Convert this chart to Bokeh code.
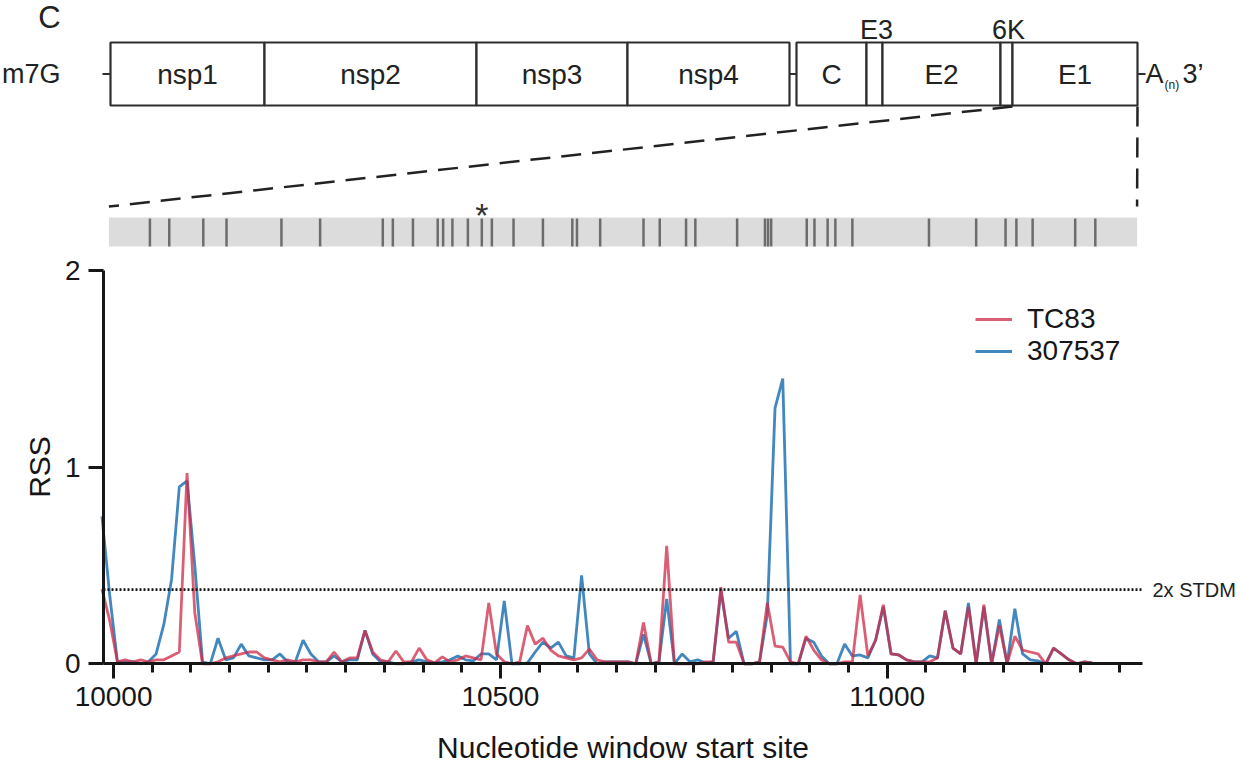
from bokeh.plotting import figure
from bokeh.models import Range1d, FixedTicker, Legend, LegendItem
from bokeh.core.properties import value
from bokeh.embed import file_html
from bokeh.resources import INLINE

FONT = "Liberation Sans"
INK = "#161616"

# ---------------- data ----------------
window_start = list(range(9985, 11266, 10))   # nucleotide window start sites

tc83 = [
    0.38, 0.22, 0.01, 0.02, 0.01, 0.02, 0.01, 0.02, 0.02, 0.04,
    0.06, 0.97, 0.26, 0.00, 0.00, 0.01, 0.03, 0.04, 0.05, 0.06,
    0.06, 0.03, 0.02, 0.01, 0.02, 0.01, 0.02, 0.02, 0.01, 0.01,
    0.06, 0.01, 0.03, 0.03, 0.17, 0.06, 0.02, 0.01, 0.065, 0.01,
    0.01, 0.08, 0.02, 0.005, 0.035, 0.01, 0.02, 0.04, 0.03, 0.02,
    0.31, 0.05, 0.01, 0.00, 0.01, 0.195, 0.10, 0.13, 0.07, 0.04,
    0.03, 0.02, 0.03, 0.075, 0.02, 0.01, 0.01, 0.01, 0.01, 0.00,
    0.21, 0.00, 0.01, 0.60, 0.00, 0.00, 0.00, 0.00, 0.01, 0.01,
    0.39, 0.11, 0.11, 0.00, 0.00, 0.01, 0.31, 0.09, 0.085, 0.01,
    0.00, 0.14, 0.07, 0.02, 0.00, 0.00, 0.01, 0.01, 0.35, 0.04,
    0.12, 0.30, 0.05, 0.045, 0.02, 0.01, 0.01, 0.01, 0.03, 0.27,
    0.08, 0.05, 0.29, 0.00, 0.30, 0.00, 0.195, 0.00, 0.14, 0.07,
    0.06, 0.05, 0.00, 0.08, 0.05, 0.02, 0.00, 0.01, 0.005,
]

s307537 = [
    0.75, 0.35, 0.01, 0.01, 0.01, 0.00, 0.01, 0.05, 0.20, 0.43,
    0.90, 0.93, 0.50, 0.01, 0.00, 0.13, 0.02, 0.03, 0.10, 0.04,
    0.03, 0.02, 0.02, 0.05, 0.01, 0.01, 0.12, 0.05, 0.01, 0.01,
    0.04, 0.01, 0.02, 0.02, 0.17, 0.05, 0.01, 0.01, 0.00, 0.00,
    0.01, 0.02, 0.01, 0.005, 0.01, 0.02, 0.04, 0.02, 0.015, 0.05,
    0.05, 0.02, 0.32, 0.00, 0.00, 0.005, 0.06, 0.11, 0.08, 0.11,
    0.04, 0.03, 0.45, 0.05, 0.00, 0.01, 0.01, 0.01, 0.01, 0.00,
    0.15, 0.00, 0.01, 0.33, 0.00, 0.05, 0.01, 0.02, 0.005, 0.01,
    0.37, 0.13, 0.165, 0.00, 0.00, 0.01, 0.25, 1.30, 1.45, 0.00,
    0.00, 0.13, 0.11, 0.04, 0.00, 0.00, 0.10, 0.04, 0.045, 0.03,
    0.12, 0.29, 0.05, 0.045, 0.02, 0.01, 0.01, 0.04, 0.03, 0.27,
    0.08, 0.05, 0.31, 0.00, 0.29, 0.00, 0.225, 0.00, 0.28, 0.05,
    0.02, 0.015, 0.00, 0.08, 0.05, 0.02, 0.00, 0.01, 0.005,
]

threshold_2x_stdm = 0.377
series_names = ["TC83", "307537"]

x_major_ticks = [10000, 10500, 11000]
x_minor_ticks = [t for t in range(10050, 11301, 50) if t not in x_major_ticks]
y_ticks = [0, 1, 2]

# genome schematic (schematic units)
genes = ["nsp1", "nsp2", "nsp3", "nsp4", "C", "E3", "E2", "6K", "E1"]
gene_start = [110, 264, 476, 627, 796, 866, 882, 1000, 1012]
gene_end = [264, 476, 627, 789, 866, 882, 1000, 1012, 1137]
genes_labelled_above = ["E3", "6K"]

# E1 region and variant sites (nucleotides)
e1_region = [9994, 11323]
variant_sites = [10047, 10072, 10116, 10146, 10217, 10267, 10348, 10361, 10387,
                 10419, 10426, 10438, 10458, 10476, 10489, 10517, 10555, 10593,
                 10599, 10629, 10685, 10706, 10740, 10752, 10806, 10842, 10846,
                 10850, 10896, 10906, 10923, 10933, 10955, 11054, 11115, 11153,
                 11167, 11188, 11243, 11269]
starred_site = 10476

# ---------------- layout constants ----------------
W, H = 1243, 774
AX_L_PX, AX_R_PX = 103, 1142        # x-axis extent on the canvas
Y0_PX, Y2_PX = 663.3, 270.0         # pixel rows of RSS 0 and 2
X_START, X_END = 9987, 11330        # x-axis data extent
Y_TOP_VAL = 2

px_per_nt = (AX_R_PX - AX_L_PX) / (X_END - X_START)
px_per_rss = (Y0_PX - Y2_PX) / Y_TOP_VAL


def nt_to_px(nt):
    return AX_L_PX + (nt - X_START) * px_per_nt


p = figure(width=W, height=H,
           x_range=Range1d(X_START - AX_L_PX / px_per_nt, X_END + (W - AX_R_PX) / px_per_nt),
           y_range=Range1d(-(H - Y0_PX) / px_per_rss, Y0_PX / px_per_rss),
           toolbar_location=None, output_backend="svg", min_border=0,
           outline_line_color=None)
p.grid.visible = False
p.extra_x_ranges = {"sx": Range1d(0, W)}
p.extra_y_ranges = {"sy": Range1d(H, 0)}

# ---------------- genome schematic ----------------
BOX_T, BOX_B = 42, 105
MID = (BOX_T + BOX_B) / 2
S = dict(x_range_name="sx", y_range_name="sy")
TXT = dict(text_font=value(FONT), text_color="#222222")

p.quad(left=gene_start, right=gene_end, top=BOX_T, bottom=BOX_B,
       fill_color="white", line_color="#2e2e2e", line_width=2.2, **S)
p.segment(x0=[102, gene_end[3], gene_end[-1]], x1=[gene_start[0], gene_start[4], gene_end[-1] + 8],
          y0=MID, y1=MID, line_color="#2e2e2e", line_width=2, **S)

in_box = [(g, (s + e) / 2) for g, s, e in zip(genes, gene_start, gene_end) if g not in genes_labelled_above]
above = [(g, (s + e) / 2) for g, s, e in zip(genes, gene_start, gene_end) if g in genes_labelled_above]
p.text(x=[c for _, c in in_box], y=MID, text=[g for g, _ in in_box], text_font_size="28px",
       text_align="center", text_baseline="middle", **TXT, **S)
p.text(x=[c + 2 for _, c in above], y=29, text=[g for g, _ in above], text_font_size="27px",
       text_align="center", text_baseline="middle", **TXT, **S)

p.text(x=[49], y=[17], text=["C"], text_font_size="31px", text_align="center",
       text_baseline="middle", **TXT, **S)
p.text(x=[60], y=[MID], text=["m7G"], text_font_size="27px", text_align="right",
       text_baseline="middle", **TXT, **S)
p.text(x=[gene_end[-1] + 8], y=[MID], text=["A"], text_font_size="27px", text_align="left",
       text_baseline="middle", **TXT, **S)
p.text(x=[gene_end[-1] + 27], y=[MID + 11], text=["(n)"], text_font_size="12px", text_align="left",
       text_baseline="middle", **TXT, **S)
p.text(x=[gene_end[-1] + 45], y=[MID], text=["3\u2019"], text_font_size="27px", text_align="left",
       text_baseline="middle", **TXT, **S)

# zoom lines from E1 down to the E1 bar
BAR_T, BAR_B = 217, 246
p.segment(x0=[gene_start[-1], gene_end[-1]], y0=BOX_B + 1,
          x1=[nt_to_px(e1_region[0]), nt_to_px(e1_region[1])], y1=206,
          line_color="#222222", line_width=2.5, line_dash="20 11", **S)

# E1 bar with variant sites
p.quad(left=[e1_region[0]], right=[e1_region[1]], top=BAR_T, bottom=BAR_B,
       fill_color="#dcdcdc", line_color=None, y_range_name="sy")
p.segment(x0=variant_sites, x1=variant_sites, y0=BAR_T + 1, y1=BAR_B,
          line_color="#6c6c6c", line_width=2.5, y_range_name="sy")
p.text(x=[starred_site], y=[214], text=["*"], text_font_size="34px", text_align="center",
       text_baseline="alphabetic", text_font=value(FONT), text_color="#333333", y_range_name="sy")

# ---------------- RSS plot ----------------
r_blue = p.line(window_start, s307537, line_color="#2f7ab8", line_width=2.8, line_alpha=0.9)
r_red = p.line(window_start, tc83, line_color="#cf2a46", line_width=2.8, line_alpha=0.75)

p.segment(x0=[X_START], x1=[X_END], y0=[threshold_2x_stdm], y1=[threshold_2x_stdm],
          line_color=INK, line_width=2.6, line_dash="2 2")
p.text(x=[X_END], y=[threshold_2x_stdm], x_offset=10, text=["2x STDM"], text_font_size="20px",
       text_align="left", text_baseline="middle", **TXT)

for ax in (p.xaxis[0], p.yaxis[0]):
    ax.axis_line_width = 3
    ax.axis_line_color = INK
    ax.major_tick_line_width = 3
    ax.major_tick_line_color = INK
    ax.major_tick_in = 0
    ax.major_tick_out = 15
    ax.major_label_text_font = FONT
    ax.major_label_text_font_size = "28px"
    ax.major_label_text_color = INK
    ax.axis_label_text_font = FONT
    ax.axis_label_text_font_size = "30px"
    ax.axis_label_text_font_style = "normal"
    ax.axis_label_text_color = INK

xa = p.xaxis[0]
xa.fixed_location = 0
xa.bounds = (X_START, X_END)
xa.ticker = FixedTicker(ticks=x_major_ticks, minor_ticks=x_minor_ticks)
xa.minor_tick_in = 0
xa.minor_tick_out = 9
xa.minor_tick_line_width = 3
xa.minor_tick_line_color = INK
xa.major_label_standoff = 8
xa.axis_label = "Nucleotide window start site"
xa.axis_label_standoff = 22

ya = p.yaxis[0]
ya.fixed_location = X_START
ya.bounds = (0, Y_TOP_VAL)
ya.ticker = FixedTicker(ticks=y_ticks, minor_ticks=[])
ya.minor_tick_line_color = None
ya.major_label_standoff = 8
ya.axis_label = "RSS"
ya.axis_label_standoff = 6

legend = Legend(items=[LegendItem(label=series_names[0], renderers=[r_red]),
                       LegendItem(label=series_names[1], renderers=[r_blue])],
                location=(975, 407), label_text_font=FONT, label_text_font_size="28px",
                label_text_color=INK, glyph_width=37, glyph_height=30, label_height=30,
                label_standoff=15, spacing=0, padding=0, margin=0,
                border_line_color=None, background_fill_alpha=0)
p.add_layout(legend)

open("out.html", "w").write(file_html(p, INLINE))
